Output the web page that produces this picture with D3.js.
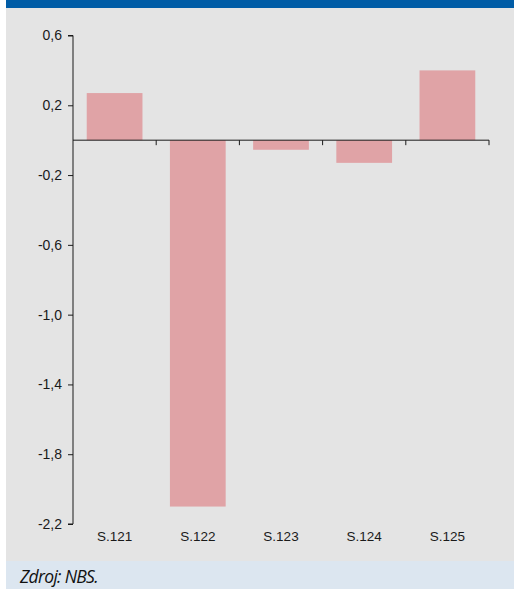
<!DOCTYPE html>
<html lang="sk">
<head>
<meta charset="utf-8">
<script src="https://cdnjs.cloudflare.com/ajax/libs/d3/7.8.5/d3.min.js"></script>
<style>
  body { margin: 0; background: #fff; }
  svg { display: block; }
</style>
</head>
<body>
<script>
// data
var categories = ["S.121", "S.122", "S.123", "S.124", "S.125"];
var values = [0.27, -2.10, -0.055, -0.13, 0.40];
var yTicks = [0.6, 0.2, -0.2, -0.6, -1.0, -1.4, -1.8, -2.2];

var W = 514, H = 589;
var svg = d3.select("body").append("svg").attr("width", W).attr("height", H);

// background panels
svg.append("rect").attr("x", 6).attr("y", 0).attr("width", W - 6).attr("height", 8).attr("fill", "#005ca6");
svg.append("rect").attr("x", 6).attr("y", 8).attr("width", W - 6).attr("height", 553).attr("fill", "#e4e4e4");
svg.append("rect").attr("x", 6).attr("y", 561).attr("width", W - 6).attr("height", 28).attr("fill", "#dce6f0");

var x = d3.scaleBand().domain(categories).range([73, 489]).paddingInner(0.33).paddingOuter(0.165);
var y = d3.scaleLinear().domain([-2.2, 0.6]).range([524, 35.5]);

// bars
svg.selectAll("rect.bar").data(values).enter().append("rect")
  .attr("class", "bar")
  .attr("x", function(d, i) { return x(categories[i]); })
  .attr("y", function(d) { return y(Math.max(0, d)); })
  .attr("width", x.bandwidth())
  .attr("height", function(d) { return Math.abs(y(d) - y(0)); })
  .attr("fill", "#e0a3a6");

// y axis
var yAxis = d3.axisLeft(y).tickValues(yTicks).tickSize(5).tickPadding(6)
  .tickFormat(function(d) { return d3.format(".1f")(d).replace(".", ",").replace("−", "-"); });
var gy = svg.append("g").attr("transform", "translate(73,0)").call(yAxis);
gy.select(".domain").attr("d", "M-5," + y(0.6) + "H0V" + y(-2.2) + "H-5").attr("stroke", "#1a1a1a");
gy.selectAll(".tick line").attr("stroke", "#1a1a1a");
gy.selectAll(".tick text").attr("font-family", "Liberation Sans, Arial, sans-serif").attr("font-size", "14px").attr("fill", "#1a1a1a");

// x axis line at zero with boundary ticks
var bounds = d3.range(categories.length + 1).map(function(i) { return 73 + i * (416 / categories.length); });
svg.append("line").attr("x1", 73).attr("x2", 489).attr("y1", y(0)).attr("y2", y(0)).attr("stroke", "#1a1a1a").attr("stroke-width", 1);
svg.selectAll("line.xt").data(bounds.slice(1)).enter().append("line")
  .attr("class", "xt")
  .attr("x1", function(d) { return d; }).attr("x2", function(d) { return d; })
  .attr("y1", y(0)).attr("y2", y(0) + 5)
  .attr("stroke", "#1a1a1a");

// category labels at bottom
svg.selectAll("text.cat").data(categories).enter().append("text")
  .attr("class", "cat")
  .attr("x", function(d) { return x(d) + x.bandwidth() / 2; })
  .attr("y", 541)
  .attr("text-anchor", "middle")
  .attr("font-family", "Liberation Sans, Arial, sans-serif")
  .attr("font-size", "13.5px")
  .attr("fill", "#1a1a1a")
  .text(function(d) { return d; });

// source
svg.append("text").attr("x", 20).attr("y", 583)
  .attr("font-family", "Open Sans, sans-serif").attr("font-style", "italic")
  .attr("font-size", "17.5px").attr("letter-spacing", "-0.7").attr("fill", "#111")
  .text("Zdroj: NBS.");
</script>
</body>
</html>
